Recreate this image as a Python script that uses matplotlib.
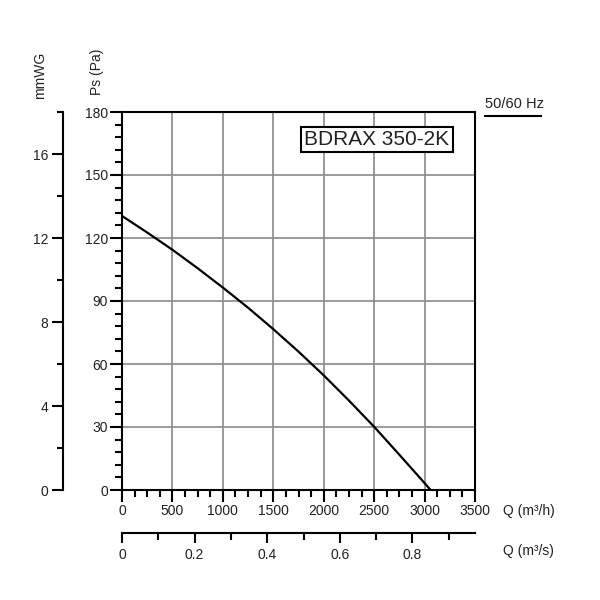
import matplotlib
matplotlib.use("Agg")
import matplotlib.pyplot as plt

plt.rcParams['font.family'] = ['Liberation Sans', 'DejaVu Sans']

# fan curve data
q_m3h = [0, 250, 500, 750, 1000, 1250, 1500, 1750, 2000, 2250, 2500, 2750, 3000, 3060]
ps_pa = [130.5, 122.6, 114.4, 105.6, 96.4, 86.8, 76.6, 65.9, 54.6, 42.6, 30.1, 16.8, 3.3, 0]

# axis ranges and tick labels
q_max = 3500
ps_max = 180
q_ticks = [0, 500, 1000, 1500, 2000, 2500, 3000, 3500]
ps_ticks = [0, 30, 60, 90, 120, 150, 180]
mmwg_ticks = [0, 4, 8, 12, 16]
mmwg_minor = [2, 6, 10, 14, 18]
qs_ticks = [0, 0.2, 0.4, 0.6, 0.8]
qs_labels = ['0', '0.2', '0.4', '0.6', '0.8']
qs_minor = [0.1, 0.3, 0.5, 0.7, 0.9]

model = 'BDRAX 350-2K'
freq = '50/60 Hz'

txt = '#222222'
W = 600.0

fig = plt.figure(figsize=(6, 6), dpi=100)

# main axes
ax = fig.add_axes([122 / W, 110 / W, 353 / W, 378 / W])
ax.plot(q_m3h, ps_pa, color='black', lw=1.6, zorder=3)
ax.set_xlim(0, q_max)
ax.set_ylim(0, ps_max)
ax.set_xticks(q_ticks)
ax.set_yticks(ps_ticks)
ax.set_xticks(range(0, q_max + 1, 125), minor=True)
ax.set_yticks(range(0, ps_max + 1, 6), minor=True)
ax.grid(True, which='major', color='#8a8a8a', lw=1.2)
ax.set_axisbelow(True)
for s in ax.spines.values():
    s.set_linewidth(1.5)
    s.set_color('black')
ax.tick_params(which='major', length=8.5, width=1.5, labelsize=10, colors='black', labelcolor=txt, pad=1.5)
ax.tick_params(which='minor', length=5, width=1.5, colors='black')

ax.text(1.08, -0.055, 'Q (m³/h)', transform=ax.transAxes, fontsize=10, color=txt, va='center', ha='left')
ax.text(-0.07, 1.045, 'Ps (Pa)', transform=ax.transAxes, fontsize=10, color=txt, rotation=90, ha='center', va='bottom')

# model name box
ax.text(2528, 167, model, fontsize=15, color=txt, ha='center', va='center', zorder=5,
        bbox=dict(boxstyle='square,pad=0.15', fc='white', ec='black', lw=1.5))

# frequency label, underlined
fig.text(485 / W, 1 - 104.5 / W, freq, fontsize=10.5, color=txt, ha='left', va='center')
fig.add_artist(plt.Line2D([485 / W, 541 / W], [1 - 116 / W, 1 - 116 / W], color='black', lw=1.5))

# mmWG axis (1 mmWG ~ 10 Pa)
axm = fig.add_axes([63 / W, 110 / W, 0.0001, 378 / W])
axm.set_ylim(0, ps_max / 10)
axm.set_yticks(mmwg_ticks)
axm.set_yticks(mmwg_minor, minor=True)
axm.set_xticks([])
for k in ['top', 'right', 'bottom']:
    axm.spines[k].set_visible(False)
axm.spines['left'].set_linewidth(1.5)
axm.patch.set_visible(False)
axm.tick_params(which='major', length=8, width=1.5, labelsize=10, labelcolor=txt, pad=2.5)
axm.tick_params(which='minor', length=4.5, width=1.5)
fig.text(40 / W, 1 - 75 / W, 'mmWG', fontsize=10, color=txt, rotation=90, ha='center', va='center')

# m3/s axis
axs = fig.add_axes([122 / W, 67 / W, 353 / W, 0.0001])
axs.set_xlim(0, q_max / 3600)
axs.set_xticks(qs_ticks)
axs.set_xticklabels(qs_labels)
axs.set_xticks(qs_minor, minor=True)
axs.set_yticks([])
for k in ['top', 'right', 'left']:
    axs.spines[k].set_visible(False)
axs.spines['bottom'].set_linewidth(1.5)
axs.patch.set_visible(False)
axs.tick_params(which='major', length=7.5, width=1.5, labelsize=10, labelcolor=txt, pad=3)
axs.tick_params(which='minor', length=5, width=1.5)
fig.text(503 / W, 1 - 551 / W, 'Q (m³/s)', fontsize=10, color=txt, ha='left', va='center')

fig.savefig('out.png', dpi=100, facecolor='white')
